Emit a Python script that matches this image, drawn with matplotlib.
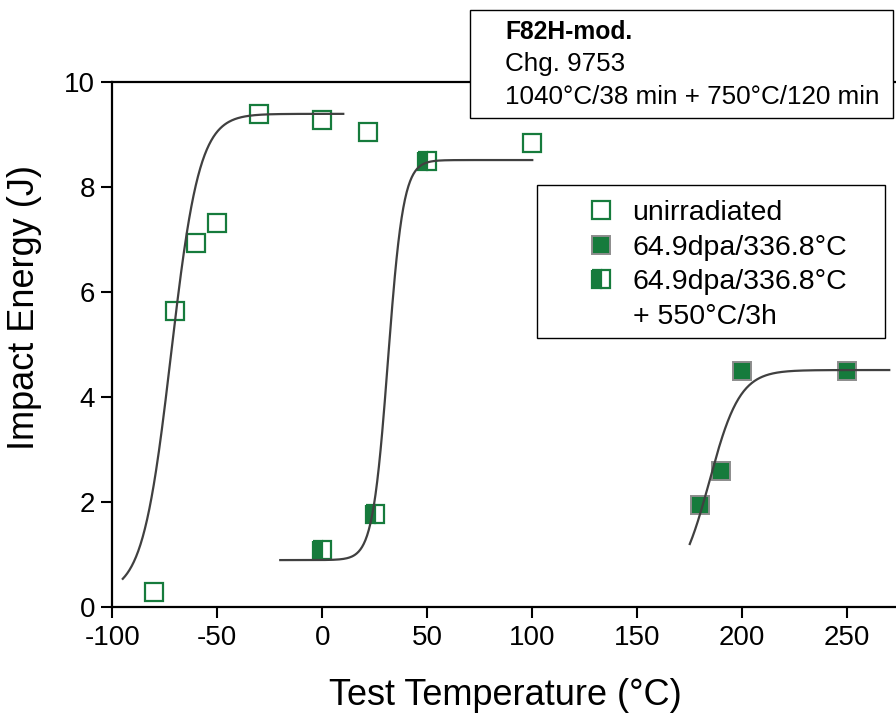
import matplotlib

matplotlib.use("Agg")
import matplotlib.pyplot as plt
import numpy as np
from matplotlib.lines import Line2D
from matplotlib.patches import Rectangle

plt.rcParams["font.family"] = ["Liberation Sans", "DejaVu Sans"]
plt.rcParams["axes.unicode_minus"] = False

GREEN = "#167b3c"
EDGE_GREY = "#8c8c8c"
CURVE = "#404040"

# unirradiated
unirr_T = [-80, -70, -60, -50, -30, 0, 22, 100]
unirr_E = [0.29, 5.64, 6.94, 7.32, 9.40, 9.28, 9.05, 8.84]

# 64.9dpa/336.8°C
irr_T = [180, 190, 200, 250]
irr_E = [1.95, 2.60, 4.50, 4.50]

# 64.9dpa/336.8°C + 550°C/3h
ann_T = [0, 25, 50]
ann_E = [1.10, 1.78, 8.50]

# tanh fits: lower shelf, upper shelf, T0, C, T range
fit_unirr = (0.25, 9.4, -72.0, 13.5, -95, 10)
fit_ann = (0.9, 8.52, 31.3, 7.3, -20, 100)
fit_irr = (0.3, 4.52, 184.4, 14.5, 175, 270)


def tanh_curve(lower, upper, t0, c, t_min, t_max):
    t = np.linspace(t_min, t_max, 300)
    e = lower + (upper - lower) / 2 * (1 + np.tanh((t - t0) / c))
    return t, e


W, H = 896, 713
fig = plt.figure(figsize=(W / 100, H / 100), dpi=100)
ax = fig.add_axes([0.1253, 0.1482, 0.8906, 0.7363])

ms = 13.5
h_unirr, = ax.plot(unirr_T, unirr_E, "s", ms=ms, mfc="none", mec=GREEN, mew=1.6,
                   linestyle="none", zorder=2)
h_irr, = ax.plot(irr_T, irr_E, "s", ms=ms, mfc=GREEN, mec=EDGE_GREY, mew=1.4,
                 linestyle="none", zorder=2)
h_ann, = ax.plot(ann_T, ann_E, "s", ms=ms, mfc=GREEN, mfcalt="white", fillstyle="left",
                 mec=GREEN, mew=1.6, linestyle="none", zorder=2)

for fit in (fit_unirr, fit_ann, fit_irr):
    t, e = tanh_curve(*fit)
    ax.plot(t, e, color=CURVE, lw=1.6, zorder=3)

ax.set_xlim(-100, 280)
ax.set_ylim(0, 10)
ax.set_xticks([-100, -50, 0, 50, 100, 150, 200, 250])
ax.set_yticks([0, 2, 4, 6, 8, 10])
ax.tick_params(direction="out", length=8, width=1.5, labelsize=20, pad=4.5)
for spine in ax.spines.values():
    spine.set_linewidth(1.6)

fig.text(505 / W, 1 - 705 / H, "Test Temperature (°C)", fontsize=26,
         ha="center", va="baseline")
fig.text(25 / W, 1 - 307 / H, "Impact Energy (J)", fontsize=26, rotation=90,
         ha="center", va="center")

# legend: frame drawn by hand so its size matches the original
ax.add_patch(Rectangle((537 / W, 1 - 338 / H), 348 / W, 153 / H,
                       transform=fig.transFigure, facecolor="white",
                       edgecolor="black", lw=1.0, zorder=4, clip_on=False))
blank = Line2D([], [], linestyle="none")
leg = ax.legend(
    [h_unirr, h_irr, h_ann, blank],
    ["unirradiated", "64.9dpa/336.8°C", "64.9dpa/336.8°C", "+ 550°C/3h"],
    loc="upper left", bbox_to_anchor=(587 / W, 1 - 200 / H),
    bbox_transform=fig.transFigure, fontsize=20.5, frameon=False,
    borderpad=0, labelspacing=0.30, handletextpad=0.60, borderaxespad=0,
    handlelength=1.0,
)
leg.set_zorder(6)

# info box
fig.patches.append(Rectangle((470 / W, 1 - 118 / H), 423 / W, 108 / H,
                             transform=fig.transFigure, facecolor="white",
                             edgecolor="black", lw=1.0, zorder=5))
fig.text(505 / W, 1 - 32 / H, "F82H-mod.", fontsize=17.7, fontweight="bold",
         va="center", zorder=6)
fig.text(505 / W, 1 - 64 / H, "Chg. 9753", fontsize=18.7, va="center", zorder=6)
fig.text(505 / W, 1 - 97 / H, "1040°C/38 min + 750°C/120 min", fontsize=18.7,
         va="center", zorder=6)

fig.savefig("out.png", dpi=100)
